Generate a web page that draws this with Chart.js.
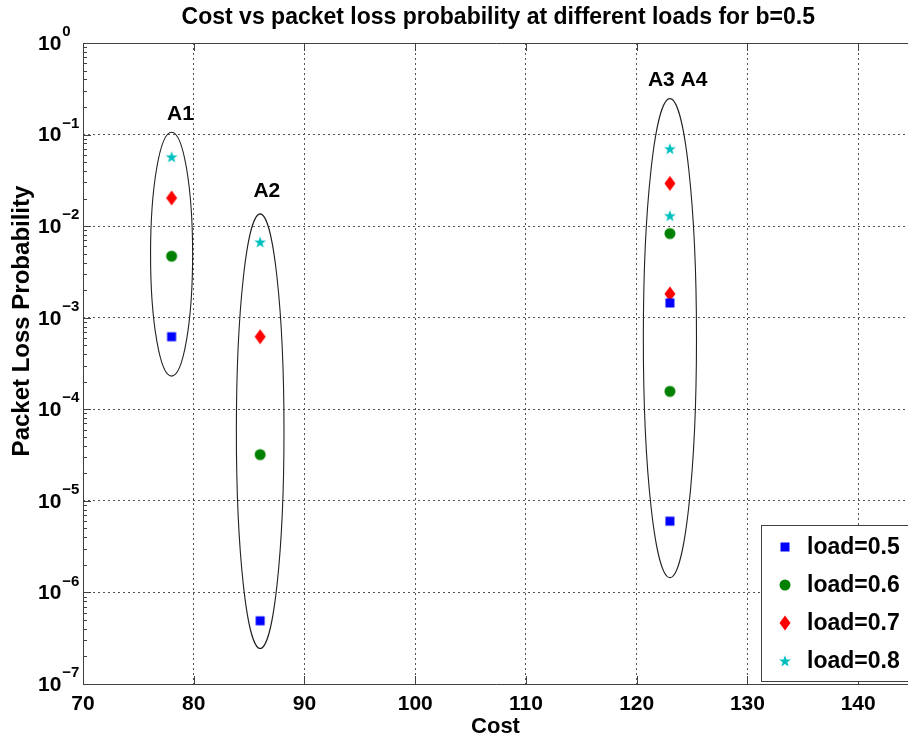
<!DOCTYPE html>
<html>
<head>
<meta charset="utf-8">
<title>Cost vs packet loss probability</title>
<script src="https://cdn.jsdelivr.net/npm/chart.js@4.4.1/dist/chart.umd.min.js"></script>
<style>
  html, body { margin: 0; padding: 0; background: #fff; }
  #chart { display: block; }
</style>
</head>
<body>
<canvas id="chart" width="908" height="740"></canvas>
<script>
// Cost of each configuration (A1, A2, A3, A4)
const clusterNames = ['A1', 'A2', 'A3', 'A4'];
const clusterCost = [78, 86, 123, 123];

// Packet loss probability per load, same order as clusterCost
const lossLoad05 = [6.2e-4, 4.9e-7, 1.45e-3, 6.0e-6];
const lossLoad06 = [4.7e-3, 3.2e-5, 8.3e-3, 1.57e-4];
const lossLoad07 = [2.03e-2, 6.2e-4, 2.93e-2, 1.82e-3];
const lossLoad08 = [5.7e-2, 6.7e-3, 7.0e-2, 1.30e-2];

const loadLabels = ['load=0.5', 'load=0.6', 'load=0.7', 'load=0.8'];

// Ellipses drawn round each group (data units)
const ellipseCost = [78, 86, 123];
const ellipseHalfWidth = [1.9, 2.15, 2.4];
const ellipseTop = [0.106, 0.0136, 0.247];
const ellipseBottom = [2.3e-4, 2.44e-7, 1.45e-6];

// Group names written above the ellipses
const groupNames = ['A1', 'A2', 'A3 A4'];
const groupNameCost = [78.8, 86.6, 123.7];
const groupNameLoss = [0.165, 0.0239, 0.397];

// Axis ticks
const xTicks = [70, 80, 90, 100, 110, 120, 130, 140];
const yTickExponents = [0, -1, -2, -3, -4, -5, -6, -7];

const FONT = "'Liberation Sans', Arial, Helvetica, sans-serif";
const gridColor = '#555555';
const axisColor = '#404040';

/**
 * Builds a small canvas used as a MATLAB style marker
 */
function makeMarker(kind, color) {
  const c = document.createElement('canvas');
  c.width = 16;
  c.height = 18;
  const g = c.getContext('2d');
  const cx = 8, cy = 9;
  g.fillStyle = color;
  g.beginPath();
  if (kind === 'square') {
    g.rect(cx - 4.5, cy - 4.5, 9, 9);
  } else if (kind === 'circle') {
    g.arc(cx, cy, 5.5, 0, Math.PI * 2);
  } else if (kind === 'diamond') {
    g.moveTo(cx, cy - 7.5);
    g.lineTo(cx + 5.5, cy);
    g.lineTo(cx, cy + 7.5);
    g.lineTo(cx - 5.5, cy);
    g.closePath();
  } else {
    // five point star
    for (let i = 0; i < 10; i++) {
      const r = i % 2 ? 2.5 : 6.2;
      const a = -Math.PI / 2 + i * Math.PI / 5;
      const px = cx + r * Math.cos(a);
      const py = cy + 0.5 + r * Math.sin(a);
      if (i === 0) g.moveTo(px, py); else g.lineTo(px, py);
    }
    g.closePath();
  }
  g.fill();
  return c;
}

const markers = [
  makeMarker('square', '#0000ff'),
  makeMarker('circle', '#008000'),
  makeMarker('diamond', '#ff0000'),
  makeMarker('star', '#00bfbf')
];

const lossSeries = [lossLoad05, lossLoad06, lossLoad07, lossLoad08];

const datasets = lossSeries.map((series, i) => ({
  label: loadLabels[i],
  data: clusterCost.map((cost, j) => ({ x: cost, y: series[j] })),
  pointStyle: markers[i],
  pointRadius: 6,
  showLine: false
}));

// Draws the MATLAB look: ellipses, box, inner ticks, labels and legend
const matlabDecor = {
  id: 'matlabDecor',
  beforeDatasetsDraw(chart) {
    const { ctx } = chart;
    const xs = chart.scales.x;
    const ys = chart.scales.y;
    ctx.save();
    ctx.strokeStyle = '#222';
    ctx.lineWidth = 1.1;
    ellipseCost.forEach((cost, i) => {
      const cx = xs.getPixelForValue(cost);
      const rx = xs.getPixelForValue(cost + ellipseHalfWidth[i]) - cx;
      const top = ys.getPixelForValue(ellipseTop[i]);
      const bottom = ys.getPixelForValue(ellipseBottom[i]);
      ctx.beginPath();
      ctx.ellipse(cx, (top + bottom) / 2, rx, (bottom - top) / 2, 0, 0, Math.PI * 2);
      ctx.stroke();
    });
    ctx.restore();
  },
  afterDraw(chart) {
    const { ctx, chartArea: area } = chart;
    const xs = chart.scales.x;
    const ys = chart.scales.y;
    const right = xs.getPixelForValue(145);
    ctx.save();

    // axes box (right side is off the picture)
    ctx.strokeStyle = axisColor;
    ctx.lineWidth = 1;
    ctx.beginPath();
    ctx.moveTo(right, area.top + 0.5);
    ctx.lineTo(area.left + 0.5, area.top + 0.5);
    ctx.lineTo(area.left + 0.5, area.bottom + 0.5);
    ctx.lineTo(right, area.bottom + 0.5);
    ctx.stroke();

    // inner tick marks
    ctx.beginPath();
    xTicks.forEach((v) => {
      const px = Math.round(xs.getPixelForValue(v)) + 0.5;
      ctx.moveTo(px, area.bottom);
      ctx.lineTo(px, area.bottom - 8);
      ctx.moveTo(px, area.top);
      ctx.lineTo(px, area.top + 8);
    });
    yTickExponents.forEach((e) => {
      const py = Math.round(ys.getPixelForValue(Math.pow(10, e))) + 0.5;
      ctx.moveTo(area.left, py);
      ctx.lineTo(area.left + 8, py);
      if (e === 0) return;
      for (let m = 2; m <= 9; m++) {
        const pm = Math.round(ys.getPixelForValue(m * Math.pow(10, e))) + 0.5;
        ctx.moveTo(area.left, pm);
        ctx.lineTo(area.left + 4, pm);
      }
    });
    ctx.stroke();

    // y tick labels, 10 with superscript exponent
    ctx.fillStyle = '#000';
    ctx.textBaseline = 'middle';
    ctx.textAlign = 'left';
    yTickExponents.forEach((e) => {
      const py = ys.getPixelForValue(Math.pow(10, e));
      ctx.font = `bold 21px ${FONT}`;
      ctx.fillText('10', 38, py + 1);
      const w = ctx.measureText('10').width;
      ctx.font = `bold 15px ${FONT}`;
      ctx.fillText(e === 0 ? '0' : '\u2212' + Math.abs(e), 38 + w + 1, py - 11);
    });

    // y axis label
    ctx.save();
    ctx.translate(22, 321);
    ctx.rotate(-Math.PI / 2);
    ctx.textAlign = 'center';
    ctx.font = `bold 24px ${FONT}`;
    ctx.fillText('Packet Loss Probability', 0, 0);
    ctx.restore();

    // title, centred over the whole axes
    ctx.textAlign = 'center';
    ctx.font = `bold 23px ${FONT}`;
    ctx.fillText('Cost vs packet loss probability at different loads for b=0.5',
      (area.left + right) / 2, 18);

    // group names
    ctx.font = `bold 21px ${FONT}`;
    groupNames.forEach((name, i) => {
      ctx.fillText(name, xs.getPixelForValue(groupNameCost[i]), ys.getPixelForValue(groupNameLoss[i]));
    });

    // legend box in the lower right corner
    const boxLeft = area.right - 147;
    const boxBottom = area.bottom - 3;
    const boxTop = boxBottom - 156;
    ctx.fillStyle = '#fff';
    ctx.fillRect(boxLeft, boxTop, right - boxLeft, boxBottom - boxTop);
    ctx.strokeStyle = axisColor;
    ctx.strokeRect(boxLeft + 0.5, boxTop + 0.5, right - boxLeft, boxBottom - boxTop);
    ctx.textAlign = 'left';
    ctx.font = `bold 23px ${FONT}`;
    ctx.fillStyle = '#000';
    chart.data.datasets.forEach((ds, i) => {
      const cy = boxTop + 22 + i * 38;
      const img = ds.pointStyle;
      ctx.drawImage(img, boxLeft + 24 - img.width / 2, cy - img.height / 2);
      ctx.fillText(ds.label, boxLeft + 46, cy + 1);
    });

    ctx.restore();
  }
};

const chart = new Chart(document.getElementById('chart'), {
  type: 'scatter',
  data: { datasets },
  options: {
    responsive: false,
    animation: false,
    devicePixelRatio: 1,
    events: [],
    layout: {
      autoPadding: false,
      padding: { top: 43, right: 0, bottom: 0, left: 0 }
    },
    plugins: {
      legend: { display: false },
      title: { display: false },
      tooltip: { enabled: false }
    },
    scales: {
      x: {
        type: 'linear',
        min: 70,
        max: 144.5,
        afterBuildTicks: (scale) => {
          scale.ticks = xTicks.map((v) => ({ value: v }));
        },
        afterFit: (scale) => {
          scale.height = 56;
          scale.paddingLeft = 0;
          scale.paddingRight = 0;
        },
        ticks: {
          color: '#000',
          padding: 8,
          maxRotation: 0,
          font: { family: FONT, size: 21, weight: 'bold' }
        },
        grid: { color: gridColor, lineWidth: 1, drawTicks: false },
        border: { display: false, dash: [2, 3] },
        title: {
          display: true,
          text: 'Cost',
          color: '#000',
          padding: { top: 0, bottom: 0 },
          font: { family: FONT, size: 22, weight: 'bold' }
        }
      },
      y: {
        type: 'logarithmic',
        min: 1e-7,
        max: 1,
        afterBuildTicks: (scale) => {
          scale.ticks = yTickExponents.map((e) => ({ value: Math.pow(10, e) }));
        },
        afterFit: (scale) => {
          scale.width = 83;
          scale.paddingTop = 0;
          scale.paddingBottom = 0;
        },
        ticks: { display: false },
        grid: { color: gridColor, lineWidth: 1, drawTicks: false },
        border: { display: false, dash: [2, 3] }
      }
    }
  },
  plugins: [matlabDecor]
});
</script>
</body>
</html>
